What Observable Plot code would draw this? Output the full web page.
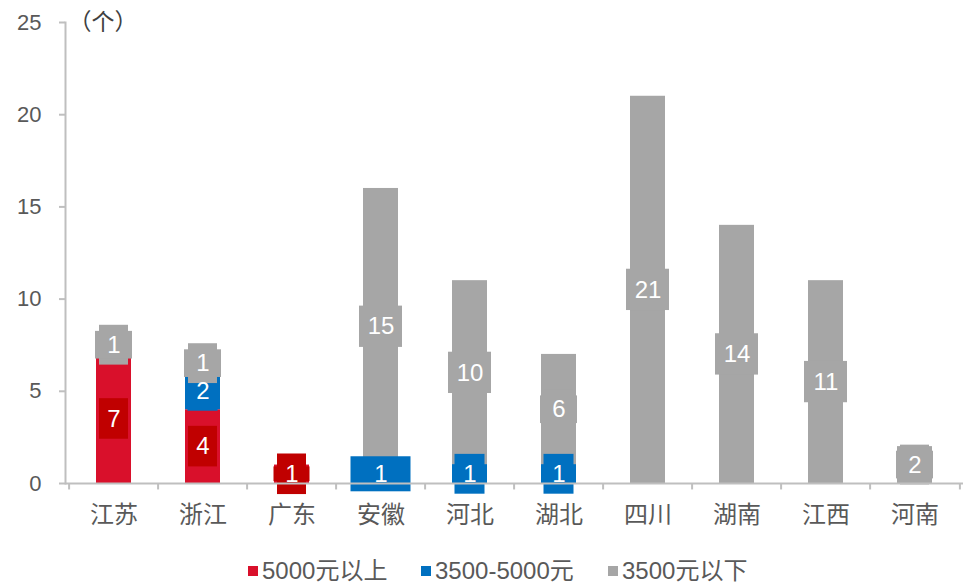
<!DOCTYPE html>
<html><head><meta charset="utf-8">
<script src="https://cdn.jsdelivr.net/npm/d3@7"></script>
<script src="https://cdn.jsdelivr.net/npm/@observablehq/plot@0.6"></script>
<style>
body{margin:0;background:#fff;font-family:"Liberation Sans","Noto Sans CJK SC",sans-serif;}
#legend{position:relative;height:32px;width:970px;font-size:24px;color:#595959;}
.item{position:absolute;top:3px;display:flex;align-items:center;line-height:26px;}
.sw{width:10px;height:10px;margin-right:4px;}
</style></head><body>
<div id="chart"></div>
<div id="legend"></div>
<script>
const categories = ["江苏","浙江","广东","安徽","河北","湖北","四川","湖南","江西","河南"];
const above5000 = [7,4,1,0,0,0,0,0,0,0];
const mid3500to5000 = [0,2,0,1,1,1,0,0,0,0];
const below3500 = [1,1,0,15,10,6,21,14,11,2];
const seriesNames = ["5000元以上","3500-5000元","3500元以下"];
const barColors = ["#d9102b","#0070c0","#a6a6a6"];
const boxColors = ["#c00000","#0070c0","#a6a6a6"];
const yTicks = [0,5,10,15,20,25];

const rows = [];
categories.forEach((c,i)=>{
  let base = 0;
  [above5000[i], mid3500to5000[i], below3500[i]].forEach((v,s)=>{
    if (v > 0) rows.push({cat:c, s, v, y1:base, y2:base+v, mid:base+v/2});
    base += v;
  });
});
const isWide = d => d.cat==="安徽" && d.s===1;
const redBox = rows.filter(d=>d.s===0);
const redAlone = rows.filter(d=>d.s===0 && d.v===1);
const blueBox = rows.filter(d=>d.s===1 && !isWide(d));
const wideBox = rows.filter(isWide);
const grayBox1 = rows.filter(d=>d.s===2 && d.v<10);
const grayBox2 = rows.filter(d=>d.s===2 && d.v>=10);
const step = (970-65-7)/categories.length;
const box = (data, inset, half) => Plot.barY(data,{x:"cat", y1:d=>d.mid-half, y2:d=>d.mid+half, fill:d=>boxColors[d.s], insetLeft:inset, insetRight:inset});

const chart = Plot.plot({
  width:970, height:555,
  marginLeft:65, marginRight:7, marginTop:22, marginBottom:72,
  style:{fontFamily:'"Liberation Sans","Noto Sans CJK SC",sans-serif', fontSize:"22px", color:"#595959", background:"#fff"},
  x:{domain:categories, paddingInner:0.61, paddingOuter:0.305, label:null},
  y:{domain:[0,25], label:null},
  marks:[
    Plot.barY(rows,{x:"cat", y1:"y1", y2:"y2", fill:d=>barColors[d.s]}),
    box(redBox, 3, 1.1),
    box(redAlone, -0.5, 0.4),
    box(blueBox, 2.5, 1.08),
    box(blueBox, 0, 0.52),
    box(wideBox, -12.5, 0.95),
    box(grayBox1, 3, 1.08),
    box(grayBox1, -1, 0.75),
    box(grayBox2, -4, 1.12),
    Plot.text(rows,{x:"cat", y:"mid", text:d=>String(d.v), fill:"white", fontSize:24}),
    Plot.ruleY([0],{stroke:"#bfbfbf", strokeWidth:2}),
    Plot.frame({anchor:"left", stroke:"#bfbfbf", strokeWidth:2}),
    Plot.ruleX(categories,{x:d=>d, y1:0, y2:-0.35, dx:-step/2, stroke:"#bfbfbf", strokeWidth:2}),
    Plot.ruleX([categories[categories.length-1]],{x:d=>d, y1:0, y2:-0.35, dx:step/2, stroke:"#bfbfbf", strokeWidth:2}),
    Plot.axisY(yTicks,{tickSize:6, tickPadding:18, stroke:"#bfbfbf", strokeWidth:2, fill:"#595959", fontSize:22, label:null}),
    Plot.axisX({tickSize:0, tickPadding:22, fill:"#595959", fontSize:24, label:null}),
    Plot.text(["（个）"],{frameAnchor:"top-left", dx:3, dy:0, textAnchor:"start", lineAnchor:"middle", fill:"#404040", fontSize:23})
  ]
});
document.getElementById("chart").appendChild(chart);

const lefts = [248,421,608];
const lg = document.getElementById("legend");
seriesNames.forEach((n,i)=>{
  const it = document.createElement("div");
  it.className="item"; it.style.left=lefts[i]+"px";
  const sw = document.createElement("span"); sw.className="sw"; sw.style.background=barColors[i];
  const t = document.createElement("span"); t.textContent=n;
  it.appendChild(sw); it.appendChild(t); lg.appendChild(it);
});
</script>
</body></html>
